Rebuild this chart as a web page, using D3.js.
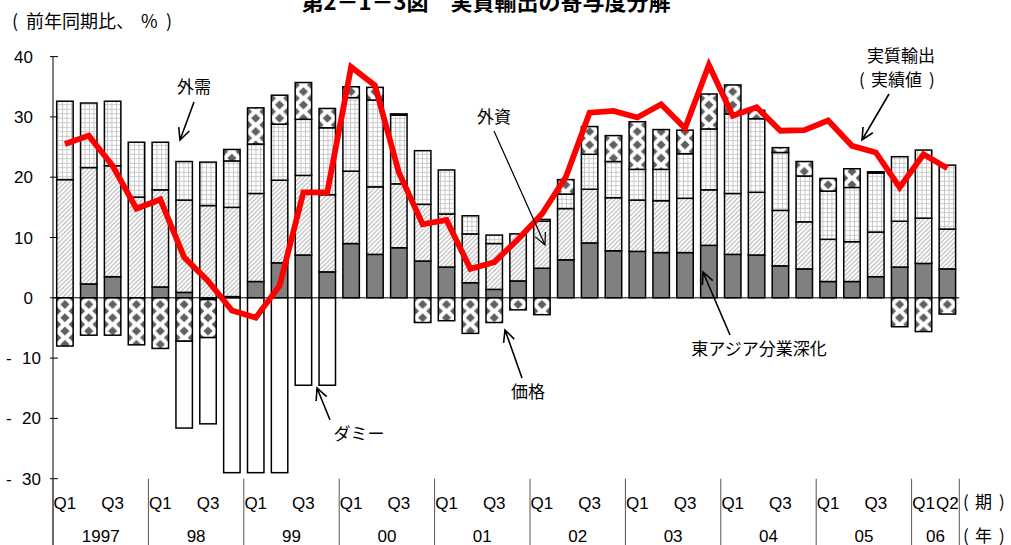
<!DOCTYPE html>
<html><head><meta charset="utf-8">
<script src="https://cdn.jsdelivr.net/npm/d3@7"></script>
<style>
html,body{margin:0;padding:0;background:#fff;}
svg{display:block;}
</style></head>
<body>
<svg id="chart" width="1011" height="545"></svg>
<script>
// ---------------- data ----------------
const categories = ["97Q1","97Q2","97Q3","97Q4","98Q1","98Q2","98Q3","98Q4","99Q1","99Q2","99Q3","99Q4",
  "00Q1","00Q2","00Q3","00Q4","01Q1","01Q2","01Q3","01Q4","02Q1","02Q2","02Q3","02Q4",
  "03Q1","03Q2","03Q3","03Q4","04Q1","04Q2","04Q3","04Q4","05Q1","05Q2","05Q3","05Q4","06Q1","06Q2"];
const quarterLabels = ["Q1","","Q3","","Q1","","Q3","","Q1","","Q3","","Q1","","Q3","","Q1","","Q3","",
  "Q1","","Q3","","Q1","","Q3","","Q1","","Q3","","Q1","","Q3","","Q1","Q2"];
const yearLabels = ["1997","98","99","00","01","02","03","04","05","06"];
const yearQuarterCounts = [4,4,4,4,4,4,4,4,4,2];
const yTicks = [-30,-20,-10,0,10,20,30,40];

// 東アジア分業深化
const eastAsia = [0,2.3,3.5,0,1.8,0.9,-0.3,0.2,2.7,5.8,7.1,4.3,9.0,7.2,8.3,6.1,5.1,2.5,1.4,2.8,
  4.9,6.3,9.1,7.8,7.7,7.5,7.5,8.7,7.2,7.1,5.3,4.8,2.7,2.7,3.5,5.1,5.7,4.8];
// 外資
const foreignCapital = [19.6,19.3,18.4,16.7,16.1,15.3,15.3,14.8,14.6,13.7,13.2,12.8,12.0,11.2,10.6,9.4,8.8,8.1,7.6,7.8,
  7.8,8.5,8.9,8.8,8.5,8.6,9.0,9.2,10.1,10.4,9.2,7.8,7.0,6.6,7.4,7.6,7.5,6.6];
// 外需
const foreignDemand = [13.0,10.7,10.7,9.1,7.9,6.4,7.2,7.7,8.2,9.3,9.3,11.1,12.2,14.4,11.4,8.9,7.3,3.0,1.4,0,
  0.3,2.4,5.8,6.0,5.1,5.2,7.4,10.1,13.2,12.2,9.6,7.6,8.0,9.0,9.8,10.7,11.3,10.6];
// 価格
const price = [-8.0,-6.2,-6.2,-7.8,-8.4,-7.2,-6.3,1.9,6.0,4.8,6.1,3.2,1.8,2.1,0.2,-4.1,-3.8,-5.9,-4.1,-2.0,
  -2.8,2.4,4.6,4.3,7.9,6.6,3.9,5.8,4.8,1.4,0.8,2.4,2.1,3.1,0.2,-4.8,-5.6,-2.7];
// ダミー
const dummy = [0,0,0,0,0,-14.4,-14.3,-29.0,-29.0,-29.0,-14.5,-14.5,0,0,0,0,0,0,0,0,
  0,0,0,0,0,0,0,0,0,0,0,0,0,0,0,0,0,0];
// 実質輸出（実績値）
const realExports = [25.5,26.9,21.9,14.8,16.3,6.7,2.8,-2.1,-3.3,2.0,17.5,17.5,38.3,35.2,20.8,12.2,12.9,4.8,5.9,9.7,
  13.9,20.0,30.7,31.0,29.9,32.1,28.1,38.6,30.2,31.6,27.7,27.8,29.4,25.2,24.1,18.3,23.8,21.5];

// ---------------- chart ----------------
const svg = d3.select("#chart");
const JP = "'Noto Sans CJK JP', 'Noto Sans', sans-serif";
const LAT = "'Liberation Sans', Arial, sans-serif";

const pLeft = 53, pRight = 959.3, pTop = 56.6, pBottom = 478.7;
const x = d3.scaleBand().domain(categories).range([pLeft, pRight]).paddingInner(0.31).paddingOuter(0.155);
const y = d3.scaleLinear().domain([-30, 40]).range([pBottom, pTop]);
const step = x.step(), bw = x.bandwidth();

const defs = svg.append("defs");
// hatch
const ph = defs.append("pattern").attr("id","hatch").attr("patternUnits","userSpaceOnUse")
  .attr("width",4.5).attr("height",4.5);
ph.append("rect").attr("width",4.5).attr("height",4.5).attr("fill","#fff");
ph.append("path").attr("d","M-1,1 L1,-1 M0,4.5 L4.5,0 M3.5,5.5 L5.5,3.5")
  .attr("stroke","#b0b0b0").attr("stroke-width",1.1);
// grid
const pg = defs.append("pattern").attr("id","grid").attr("patternUnits","userSpaceOnUse")
  .attr("width",4.5).attr("height",4.5).attr("x",pLeft).attr("y",y(0));
pg.append("rect").attr("width",4.5).attr("height",4.5).attr("fill","#fff");
pg.append("path").attr("d","M0.5,0 V4.5 M0,0.5 H4.5").attr("stroke","#c4c4c4").attr("stroke-width",1)
  .attr("shape-rendering","crispEdges");
// diamonds (tile width = band step so every bar sees the same tile portion)
const dh = 13.3, cxm = step/2, r = 4.6;
const pd = defs.append("pattern").attr("id","diam").attr("patternUnits","userSpaceOnUse")
  .attr("width",step).attr("height",dh).attr("x",pLeft).attr("y",y(0));
pd.append("rect").attr("width",step).attr("height",dh).attr("fill","#fff");
const dia = (px,py) => `M${px},${py-r} L${px+r},${py} L${px},${py+r} L${px-r},${py} Z`;
pd.append("path").attr("fill","#606060").attr("d",
  dia(cxm, dh/2) + dia(cxm-bw/2, 0) + dia(cxm-bw/2, dh) + dia(cxm+bw/2, 0) + dia(cxm+bw/2, dh));

// title (cut off at top in reference)
svg.append("text").attr("x",486).attr("y",10).attr("text-anchor","middle")
  .attr("font-family",JP).attr("font-size",22).attr("font-weight","bold")
  .text("第2－1－3図　実質輸出の寄与度分解");

// unit label
const unit = svg.append("text").attr("y",28).attr("font-family",JP).attr("font-size",18);
unit.append("tspan").attr("x",12).text("(");
unit.append("tspan").attr("x",26).text("前年同期比、");
unit.append("tspan").attr("x",141).text("%");
unit.append("tspan").attr("x",166).text(")");

// stacked bars
const keys = ["eastAsia","foreignCapital","foreignDemand","price","dummy"];
const fills = {eastAsia:"#808080", foreignCapital:"url(#hatch)", foreignDemand:"url(#grid)", price:"url(#diam)", dummy:"#fff"};
const rows = categories.map((c,i)=>({cat:c, eastAsia:eastAsia[i], foreignCapital:foreignCapital[i],
  foreignDemand:foreignDemand[i], price:price[i], dummy:dummy[i]}));
const series = d3.stack().keys(keys).offset(d3.stackOffsetDiverging)(rows);

const gBars = svg.append("g");
series.forEach(s=>{
  gBars.selectAll(null).data(s.filter(d=>Math.abs(d[1]-d[0])>0.001)).enter().append("rect")
    .attr("x", d=>x(d.data.cat))
    .attr("width", bw)
    .attr("y", d=>y(Math.max(d[0],d[1])))
    .attr("height", d=>Math.abs(y(d[0])-y(d[1])))
    .attr("fill", fills[s.key])
    .attr("stroke","#000").attr("stroke-width",1.5);
});

// zero line
svg.append("line").attr("x1",pLeft).attr("x2",pRight).attr("y1",y(0)).attr("y2",y(0))
  .attr("stroke","#000").attr("stroke-width",1);

// y axis
const yAxis = svg.append("g");
yAxis.append("line").attr("x1",pLeft).attr("x2",pLeft).attr("y1",pTop).attr("y2",545)
  .attr("stroke","#000").attr("stroke-width",1);
yTicks.forEach(t=>{
  yAxis.append("line").attr("x1",pLeft-3).attr("x2",pLeft+5).attr("y1",y(t)).attr("y2",y(t))
    .attr("stroke","#000").attr("stroke-width",1);
  const tx = yAxis.append("text").attr("y", y(t)+6).attr("font-family",LAT).attr("font-size",17);
  if (t < 0) {
    tx.append("tspan").attr("x",6).text("-");
    tx.append("tspan").attr("x",41).attr("text-anchor","end").text(String(Math.abs(t)));
  } else {
    tx.attr("x",33).attr("text-anchor","end").text(String(t));
  }
});

// x axis labels
const gx = svg.append("g");
categories.forEach((c,i)=>{
  if (quarterLabels[i]) gx.append("text").attr("x", x(c)+bw/2).attr("y", 509)
    .attr("text-anchor","middle").attr("font-family",LAT).attr("font-size",17).text(quarterLabels[i]);
});
let idx = 0;
const sepX = [pLeft];
yearLabels.forEach((yl,k)=>{
  const n = yearQuarterCounts[k];
  const x0 = x(categories[idx]) - x.step()*x.paddingOuter();
  const x1 = x0 + n*step;
  gx.append("text").attr("x",(x0+x1)/2).attr("y",541.5).attr("text-anchor","middle")
    .attr("font-family",LAT).attr("font-size",17).text(yl);
  sepX.push(x1);
  idx += n;
});
sepX.forEach(sx=>{
  gx.append("line").attr("x1",sx).attr("x2",sx).attr("y1",pBottom).attr("y2",545)
    .attr("stroke","#555").attr("stroke-width",1);
});
function paren(g, xs, yb, word){
  const t = g.append("text").attr("y",yb).attr("font-family",JP).attr("font-size",17);
  t.append("tspan").attr("x",xs).text("(");
  t.append("tspan").attr("x",xs+12).text(word);
  t.append("tspan").attr("x",xs+12+17*word.length+7).text(")");
}
paren(gx, 963, 508, "期");
paren(gx, 963, 541.5, "年");

// red line
const line = d3.line().x((d,i)=>x(categories[i])+bw/2).y(d=>y(d)).curve(d3.curveLinear);
svg.append("path").datum(realExports).attr("d",line).attr("fill","none")
  .attr("stroke","#ff0000").attr("stroke-width",5.8).attr("stroke-linejoin","miter");

// annotations
function arrow(x1,y1,x2,y2,w){
  const a = Math.atan2(y2-y1,x2-x1), L = 13, sp = 0.45;
  const p = `M${x1},${y1} L${x2},${y2} M${x2-L*Math.cos(a-sp)},${y2-L*Math.sin(a-sp)} L${x2},${y2} L${x2-L*Math.cos(a+sp)},${y2-L*Math.sin(a+sp)}`;
  svg.append("path").attr("d",p).attr("fill","none").attr("stroke","#000").attr("stroke-width",w||1.6);
}
function label(tx,ty,t,anchor){
  svg.append("text").attr("x",tx).attr("y",ty).attr("text-anchor",anchor||"middle")
    .attr("font-family",JP).attr("font-size",17).text(t);
}
label(194,93,"外需");
arrow(194,102,180,140);
label(494,123,"外資");
arrow(494,131,545,245,1.2);
label(901,62,"実質輸出");
paren(svg, 859, 86, "実績値");
arrow(889,94,862,140);
label(759,355,"東アジア分業深化");
arrow(730,335,703,272);
label(528,398,"価格");
arrow(522,378,505,330);
label(359,440,"ダミー");
arrow(330,420,317,388);
</script>
</body></html>
